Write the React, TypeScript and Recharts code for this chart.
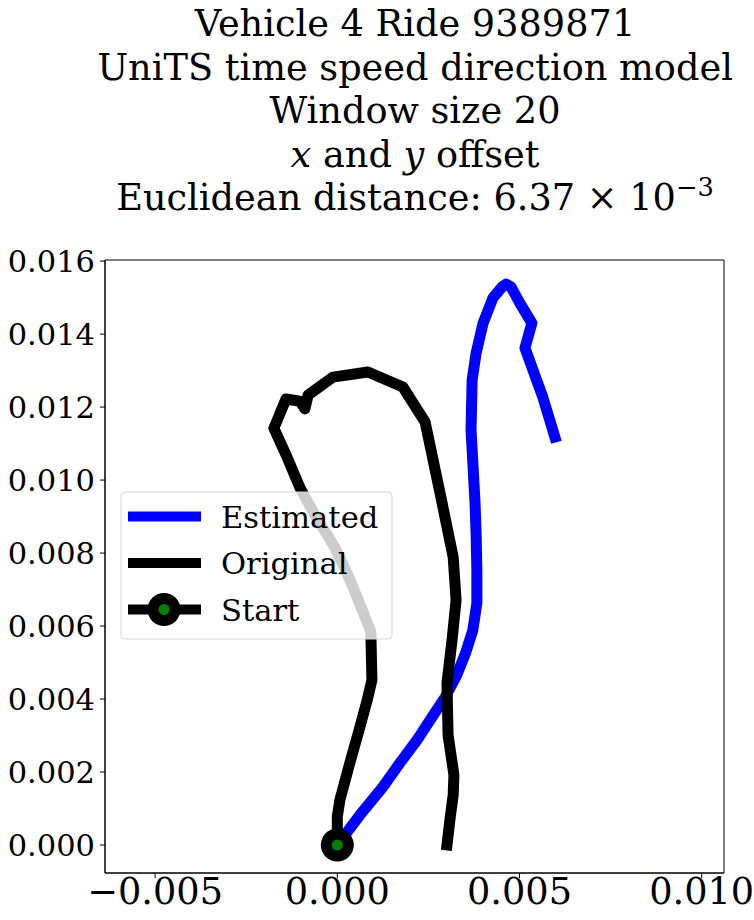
import React from "react"
import { ComposedChart, Line, Scatter, XAxis, YAxis, ReferenceArea } from "recharts"

// trajectory offsets (x, y in degrees)
const estimatedX = [0, 0.00062, 0.00125, 0.00172, 0.00219, 0.0026, 0.00296, 0.00328, 0.00353, 0.00372, 0.00383, 0.00383, 0.00381, 0.00378, 0.00372, 0.00367, 0.0037, 0.00381, 0.004, 0.00427, 0.00452, 0.00463, 0.00477, 0.00501, 0.00534, 0.00515, 0.00537, 0.00564, 0.00597]
const estimatedY = [0, 0.00082, 0.00159, 0.00225, 0.00288, 0.00351, 0.00405, 0.00466, 0.00529, 0.00589, 0.00663, 0.00753, 0.00849, 0.00937, 0.01047, 0.01137, 0.01274, 0.01348, 0.0143, 0.01499, 0.01529, 0.01537, 0.01529, 0.01485, 0.0143, 0.01362, 0.01301, 0.01227, 0.01118]

const originalX = [0, 0, 0.00007, 0.00035, 0.00062, 0.00082, 0.00095, 0.00092, 0.00071, 0.00035, -0.00006, -0.00061, -0.00102, -0.00138, -0.00174, -0.00141, -0.00102, -0.00089, -0.0008, -0.00012, 0.00084, 0.0018, 0.00241, 0.00282, 0.00318, 0.00326, 0.00315, 0.00301, 0.00304, 0.0032, 0.00318, 0.0031, 0.00301]
const originalY = [0, 0.00077, 0.00123, 0.00227, 0.00323, 0.00397, 0.00452, 0.00584, 0.00638, 0.00726, 0.00814, 0.00904, 0.00978, 0.01063, 0.01142, 0.01222, 0.01216, 0.01195, 0.01233, 0.01282, 0.01296, 0.01255, 0.01159, 0.00964, 0.00789, 0.00671, 0.00562, 0.00444, 0.00301, 0.00192, 0.00137, 0.00077, 0]

const startPoint = [{ x: 0, y: 0 }]

const xTicks = [-0.005, 0, 0.005, 0.01]
const yTicks = [0, 0.002, 0.004, 0.006, 0.008, 0.01, 0.012, 0.014, 0.016]
const xDomain = [-0.006375, 0.010612]
const yDomain = [-0.000767, 0.01603]

const titleLines = ["Vehicle 4 Ride 9389871", "UniTS time speed direction model", "Window size 20"]

const FONT = "'DejaVu Serif', serif"
const GREEN = "#008000"
const LW = 11

const estimated = estimatedX.map((x, i) => ({ x, y: estimatedY[i] }))
const original = originalX.map((x, i) => ({ x, y: originalY[i] }))

const fmtX = (v: number) => (v < 0 ? "\u2212" + Math.abs(v).toFixed(3) : v.toFixed(3))
const fmtY = (v: number) => v.toFixed(3)

function StartMarker(props: any) {
  const { cx, cy } = props
  return (
    <g>
      <circle cx={cx} cy={cy} r={16.5} fill="#000" />
      <circle cx={cx} cy={cy} r={5.5} fill={GREEN} />
    </g>
  )
}

function LegendBox() {
  const rows = [
    { label: "Estimated", color: "#0000ff", marker: false },
    { label: "Original", color: "#000", marker: false },
    { label: "Start", color: "#000", marker: true },
  ]
  return (
    <svg width={274} height={150} style={{ position: "absolute", left: 120, top: 491 }}>
      <rect x={1} y={1} width={271} height={147} rx={4} fill="rgba(255,255,255,0.8)" stroke="#d6d6d6" strokeWidth={1} />
      {rows.map((r, i) => {
        const cy = 25.5 + i * 46.5
        return (
          <g key={r.label}>
            <line x1={8} x2={81} y1={cy} y2={cy} stroke={r.color} strokeWidth={10} />
            {r.marker && <circle cx={44} cy={cy} r={16.5} fill="#000" />}
            {r.marker && <circle cx={44} cy={cy} r={5.5} fill={GREEN} />}
            <text x={101} y={cy + 11} fontFamily={FONT} fontSize={30.6} fill="#000">{r.label}</text>
          </g>
        )
      })}
    </svg>
  )
}

export default function App() {
  return (
    <div style={{ position: "absolute", left: 0, top: 0, width: 754, height: 920, background: "#fff" }}>
      <div style={{
        position: "absolute", left: 0, top: 2, width: 830, textAlign: "center",
        fontFamily: FONT, fontSize: 36.7, lineHeight: "43.5px", color: "#000",
      }}>
        {titleLines.map((t) => <div key={t}>{t}</div>)}
        <div><i>x</i> and <i>y</i> offset</div>
        <div>
          Euclidean distance: 6.37 × 10
          <span style={{ fontSize: "0.7em", position: "relative", top: "-0.55em", lineHeight: 0 }}>{"\u22123"}</span>
        </div>
      </div>

      <ComposedChart width={754} height={920} margin={{ top: 260, right: 30, bottom: 0, left: 0 }}>
        <XAxis
          dataKey="x"
          type="number"
          domain={xDomain}
          ticks={xTicks}
          allowDataOverflow
          tickFormatter={fmtX}
          height={47}
          tickSize={5}
          tickMargin={0}
          axisLine={{ stroke: "#000" }}
          tickLine={{ stroke: "#000" }}
          tick={{ fill: "#000", fontSize: 36.7, fontFamily: FONT }}
        />
        <YAxis
          dataKey="y"
          type="number"
          domain={yDomain}
          ticks={yTicks}
          allowDataOverflow
          tickFormatter={fmtY}
          width={105}
          tickSize={5}
          tickMargin={5}
          axisLine={{ stroke: "#000" }}
          tickLine={{ stroke: "#000" }}
          tick={{ fill: "#000", fontSize: 30.5, fontFamily: FONT }}
        />
        <ReferenceArea x1={xDomain[0]} x2={xDomain[1]} y1={yDomain[0]} y2={yDomain[1]} fill="none" stroke="#000" strokeWidth={1} ifOverflow="visible" />
        <Line data={estimated} dataKey="y" type="linear" stroke="#0000ff" strokeWidth={LW} dot={false} activeDot={false}
              strokeLinecap="square" strokeLinejoin="round" isAnimationActive={false} />
        <Line data={original} dataKey="y" type="linear" stroke="#000" strokeWidth={LW} dot={false} activeDot={false}
              strokeLinecap="square" strokeLinejoin="round" isAnimationActive={false} />
        <Scatter data={startPoint} dataKey="y" shape={StartMarker} isAnimationActive={false} />
      </ComposedChart>

      <LegendBox />
    </div>
  )
}
